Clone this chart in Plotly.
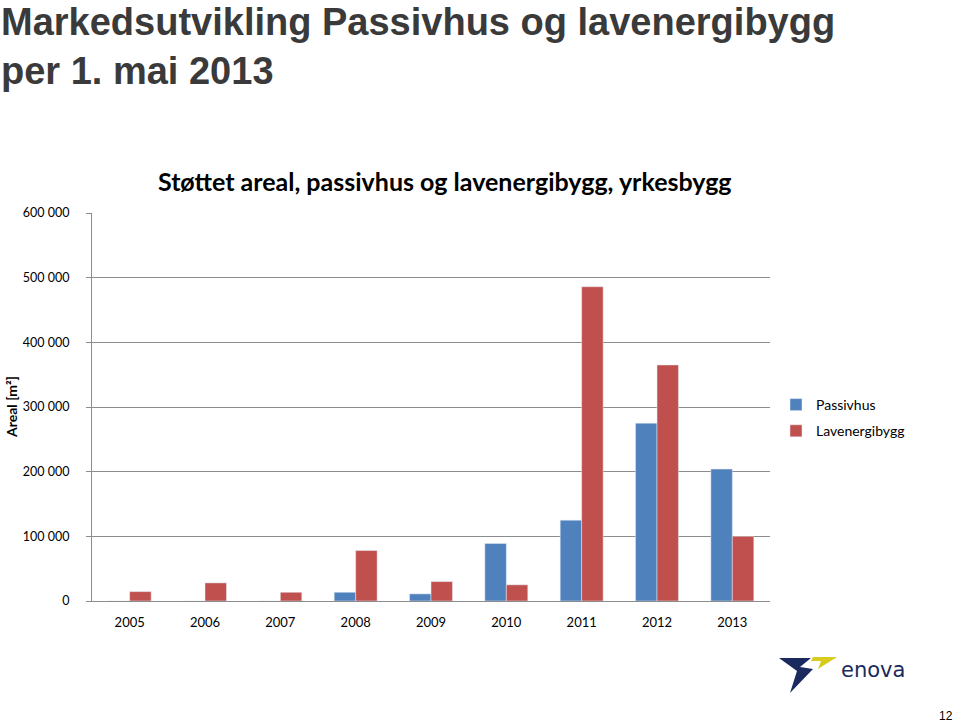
import plotly.graph_objects as go

years = ["2005", "2006", "2007", "2008", "2009", "2010", "2011", "2012", "2013"]
passivhus = [0, 0, 0, 13500, 11000, 89000, 125000, 275000, 204000]
lavenergibygg = [14500, 28000, 13500, 78000, 30000, 25000, 486000, 365000, 100000]
y_ticks = [0, 100000, 200000, 300000, 400000, 500000, 600000]
y_tick_labels = ["0", "100 000", "200 000", "300 000", "400 000", "500 000", "600 000"]

W, H = 960, 722
L, R, T, B = 92, 770, 213, 601

def px(x):
    return (x - L) / (R - L)

def py(y):
    return (B - y) / (B - T)

fig = go.Figure()
fig.add_trace(go.Bar(x=years, y=passivhus, name="Passivhus", marker_color="#4F81BD", legendgroup="p"))
fig.add_trace(go.Bar(x=years, y=lavenergibygg, name="Lavenergibygg", marker_color="#C0504D", legendgroup="l"))

font_main = "Lato, 'Open Sans', sans-serif"

fig.update_layout(
    width=W, height=H,
    margin=dict(l=L, r=W - R, t=T, b=H - B, pad=0),
    paper_bgcolor="white", plot_bgcolor="white",
    barmode="group", bargap=0.43, bargroupgap=0,
    showlegend=True,
    legend=dict(x=px(776), y=py(389), xanchor="left", yanchor="top",
                font=dict(family=font_main, size=14, color="#000"),
                tracegroupgap=5, itemwidth=30, bgcolor="rgba(0,0,0,0)"),
    font=dict(family=font_main, color="#000"),
)

fig.update_yaxes(range=[0, 600000], tickvals=y_ticks, ticktext=y_tick_labels,
                 showgrid=True, gridcolor="#8C8C8C", gridwidth=1,
                 showline=True, linecolor="#8C8C8C", linewidth=1,
                 ticks="outside", ticklen=5, tickcolor="#8C8C8C",
                 ticklabelstandoff=14,
                 tickfont=dict(family=font_main, size=12.5, color="#000"),
                 zeroline=False, fixedrange=True)
fig.update_xaxes(showline=True, linecolor="#8C8C8C", linewidth=1,
                 ticks="", ticklabelstandoff=9,
                 tickfont=dict(family=font_main, size=13, color="#000"),
                 fixedrange=True)

# Page header
fig.add_annotation(text="<b>Markedsutvikling Passivhus og lavenergibygg<br>per 1. mai 2013</b>",
                   xref="paper", yref="paper", x=px(-1), y=py(-1), xanchor="left", yanchor="top",
                   align="left", showarrow=False,
                   font=dict(family="Liberation Sans, Arial", size=38, color="#3A3A3A"))

# Chart title
fig.add_annotation(text="<b>Støttet areal, passivhus og lavenergibygg, yrkesbygg</b>",
                   xref="paper", yref="paper", x=px(445), y=py(181), xanchor="center", yanchor="middle",
                   showarrow=False, font=dict(family=font_main, size=25, color="#000"))

# Y axis title
fig.add_annotation(text="<b>Areal [m²]</b>", textangle=-90,
                   xref="paper", yref="paper", x=px(11), y=py(407), xanchor="center", yanchor="middle",
                   showarrow=False, font=dict(family=font_main, size=14, color="#000"))

# Page number
fig.add_annotation(text="12", xref="paper", yref="paper", x=px(955), y=py(716),
                   xanchor="right", yanchor="middle", showarrow=False,
                   font=dict(family="Liberation Sans, Arial", size=12, color="#000"))

# Logo
navy = "#1B2A5E"
yellow = "#D9CB1E"
def poly(points):
    s = "M " + " L ".join(f"{px(x):.5f},{py(y):.5f}" for x, y in points) + " Z"
    return s

fig.add_shape(type="path", xref="paper", yref="paper",
              path=poly([(779, 658), (811, 658), (800, 667), (813, 669), (790, 693), (797, 671), (779, 658)]),
              fillcolor=navy, line=dict(width=0))
fig.add_shape(type="path", xref="paper", yref="paper",
              path=poly([(813, 657), (837, 657), (818, 669), (821, 661), (811, 661)]),
              fillcolor=yellow, line=dict(width=0))
fig.add_annotation(text="enova", xref="paper", yref="paper", x=px(839), y=py(670),
                   xanchor="left", yanchor="middle", showarrow=False,
                   font=dict(family="DejaVu Sans", size=21, color=navy))

fig.write_html("out.html")
